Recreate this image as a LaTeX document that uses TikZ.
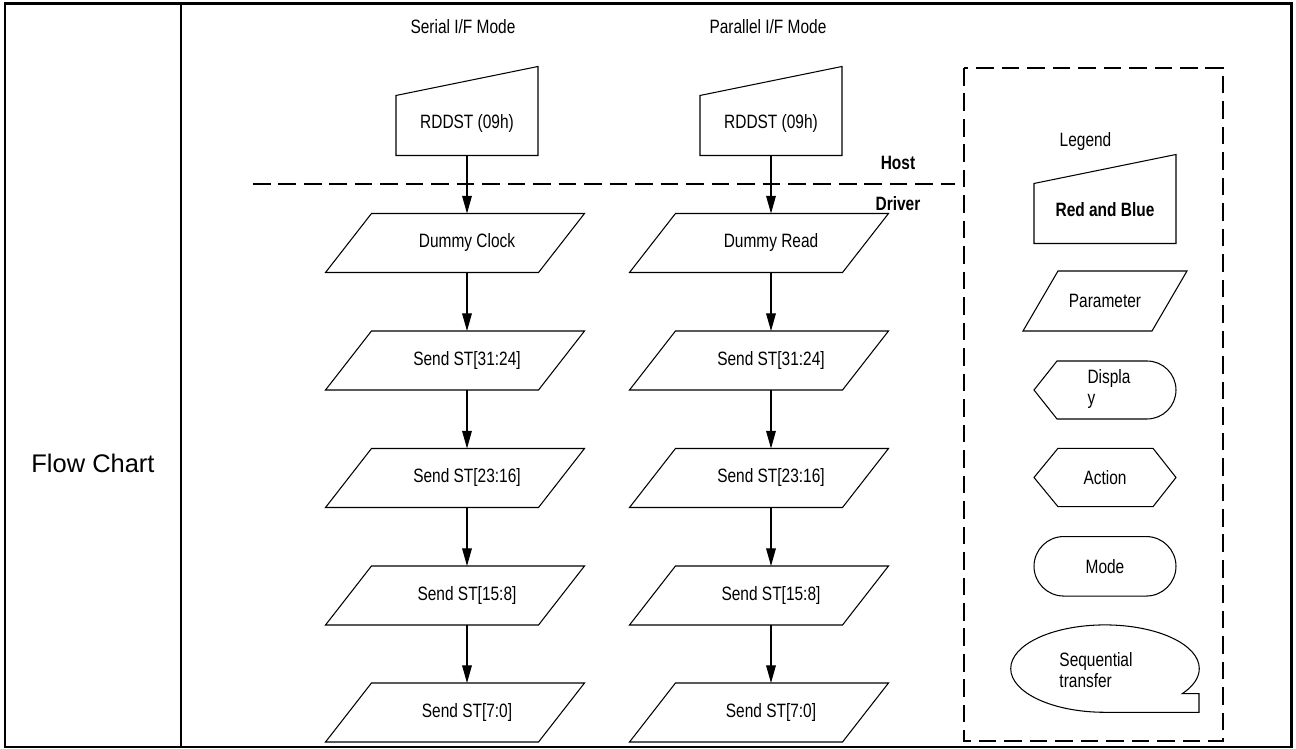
\documentclass[tikz,border=0pt]{standalone}
\usepackage{fontspec}
\setmainfont{Liberation Sans}
\newfontfamily\narrowfont[FakeStretch=0.8]{Liberation Sans}
\usetikzlibrary{arrows.meta,shapes.misc}
\tikzset{
  txt/.style={font=\narrowfont\fontsize{11}{11.5}\selectfont,inner sep=0pt},
  txtb/.style={font=\narrowfont\bfseries\fontsize{11}{11.5}\selectfont,inner sep=0pt},
  pbox/.style={txt,minimum width=4.24cm,minimum height=1.16cm},
  ibox/.style={txt,minimum width=2.82cm,minimum height=1.18cm},
  sepline/.style={dash pattern=on 10pt off 4.5pt}
}
\newcommand{\pgram}[4]{% x, y, name, text   (parallelogram 212 x 58 px, leaning right)
  \node[pbox] (#3) at (#1,#2) {#4};
  \draw ([xshift=-0.7cm]#3.south west) -- ([xshift=-0.7cm]#3.south east)
     -- ([xshift=0.22cm]#3.north east) -- ([xshift=0.22cm]#3.north west) -- cycle;}
\newcommand{\inbox}[4]{% x, y, name, text   (manual input, top edge rising to the right)
  \node[ibox] (#3) at (#1,#2) {\raisebox{0.15cm}{#4}};
  \draw (#3.south west) -- (#3.south east) -- ([yshift=0.58cm]#3.north east)
     -- (#3.north west) -- cycle;}

\begin{document}
\begin{tikzpicture}[x=0.02cm,y=-0.02cm,line width=0.6pt,>={Triangle[length=10pt,width=5.5pt]}]
  \useasboundingbox (0,0) rectangle (1296,749);
  % table frame
  \draw[line width=1.7pt] (5,4) rectangle (1291,747);
  \draw[line width=1.1pt] (181,4) -- (181,747);
  \node[font=\fontsize{14.5}{16}\selectfont] (title) at (93,463) {Flow Chart};
  % column heads
  \node[txt] (hser) at (463,27) {Serial I/F Mode};
  \node[txt] (hpar) at (768,27) {Parallel I/F Mode};
  % host command
  \inbox{467}{125.5}{rd1}{RDDST (09h)}
  \inbox{771}{125.5}{rd2}{RDDST (09h)}
  % host / driver boundary
  \coordinate (bl) at (253,184);
  \coordinate (br) at (955,184);
  \draw[sepline] (bl) -- (br);
  \node[txtb] (host) at (898,163) {Host};
  \node[txtb] (drv) at (898,204) {Driver};
  % serial column
  \pgram{467}{243}{dc1}{Dummy Clock}
  \pgram{467}{360.5}{sa1}{Send ST[31:24]}
  \pgram{467}{478}{sb1}{Send ST[23:16]}
  \pgram{467}{595.5}{sc1}{Send ST[15:8]}
  \pgram{467}{712.5}{sd1}{Send ST[7:0]}
  \draw[->] (rd1) -- (dc1);
  \draw[->] (dc1) -- (sa1);
  \draw[->] (sa1) -- (sb1);
  \draw[->] (sb1) -- (sc1);
  \draw[->] (sc1) -- (sd1);
  % parallel column
  \pgram{771}{243}{dc2}{Dummy Read}
  \pgram{771}{360.5}{sa2}{Send ST[31:24]}
  \pgram{771}{478}{sb2}{Send ST[23:16]}
  \pgram{771}{595.5}{sc2}{Send ST[15:8]}
  \pgram{771}{712.5}{sd2}{Send ST[7:0]}
  \draw[->] (rd2) -- (dc2);
  \draw[->] (dc2) -- (sa2);
  \draw[->] (sa2) -- (sb2);
  \draw[->] (sb2) -- (sc2);
  \draw[->] (sc2) -- (sd2);
  % legend
  \draw[sepline] (964,68) rectangle (1223,741);
  \node[txt] (leg) at (1085.5,142) {Legend};
  \inbox{1105}{213.5}{lrb}{\bfseries Red and Blue}
  \draw (1023,331) -- (1152,331) -- (1187,271) -- (1058,271) -- cycle;
  \node[txt] (lpar) at (1105,301) {Parameter};
  \draw (1034,390) -- (1057,361) -- (1147,361) arc[start angle=90,end angle=-90,radius=0.58cm]
     -- (1057,419) -- cycle;
  \node[txt,align=left] (ldisp) at (1109,389) {Displa\\y};
  \draw (1034,477.5) -- (1058,448.3) -- (1153,448.3) -- (1176,477.5) -- (1153,506.7)
     -- (1058,506.7) -- cycle;
  \node[txt] (lact) at (1105,477.5) {Action};
  \node[txt,draw,rounded rectangle,minimum width=2.84cm,minimum height=1.19cm] (lmode)
     at (1105,566.3) {Mode};
  \draw (1105,712.3) arc[start angle=-90,end angle=-395,x radius=1.886cm,y radius=0.874cm]
     -- (1199,693.7) -- (1199,712.3) -- cycle;
  \node[txt,align=left] (lseq) at (1096,670) {Sequential\\transfer};
\end{tikzpicture}
\end{document}
